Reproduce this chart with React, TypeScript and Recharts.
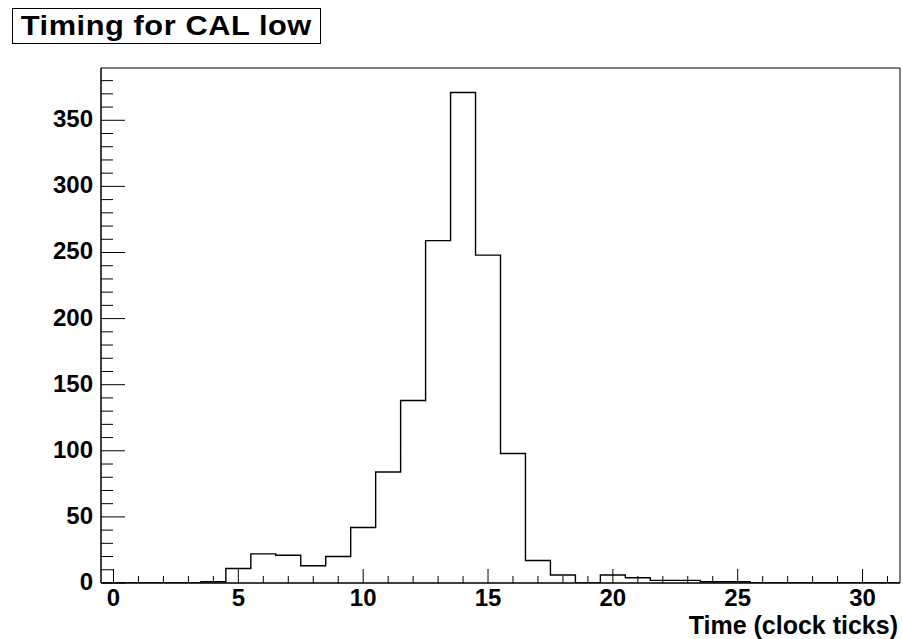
import {
  ComposedChart,
  Line,
  XAxis,
  YAxis,
  ReferenceArea,
  Label,
} from "recharts";

// bin centres (clock ticks) and entries per bin
const binCenters = [
  0, 1, 2, 3, 4, 5, 6, 7, 8, 9, 10, 11, 12, 13, 14, 15, 16, 17, 18, 19, 20,
  21, 22, 23, 24, 25, 26, 27, 28, 29, 30, 31,
];
const counts = [
  0, 0, 0, 0, 1, 11, 22, 21, 13, 20, 42, 84, 138, 259, 371, 248, 98, 17, 6, 0,
  6, 4, 2, 2, 1, 1, 0, 0, 0, 0, 0, 0,
];

const xTicks = [
  0, 1, 2, 3, 4, 5, 6, 7, 8, 9, 10, 11, 12, 13, 14, 15, 16, 17, 18, 19, 20,
  21, 22, 23, 24, 25, 26, 27, 28, 29, 30, 31,
];
const xLabels = [0, 5, 10, 15, 20, 25, 30];
const yTicks = [
  0, 10, 20, 30, 40, 50, 60, 70, 80, 90, 100, 110, 120, 130, 140, 150, 160,
  170, 180, 190, 200, 210, 220, 230, 240, 250, 260, 270, 280, 290, 300, 310,
  320, 330, 340, 350, 360, 370, 380,
];
const yLabels = [0, 50, 100, 150, 200, 250, 300, 350];

const binWidth = 1;
const xMin = binCenters[0] - binWidth / 2;
const xMax = binCenters[binCenters.length - 1] + binWidth / 2;
const yMax = Math.max(...counts) * 1.05;

// step outline: one point at each low edge, plus the last high edge
const outline = binCenters.map((c, i) => ({ x: c - binWidth / 2, n: counts[i] }));
outline.push({ x: xMax, n: counts[counts.length - 1] });

const font = "'Liberation Sans', Arial, Helvetica, sans-serif";

function XTick(props: any) {
  const { x, y, payload } = props;
  const major = xLabels.includes(payload.value);
  return (
    <g>
      <line x1={x} x2={x} y1={y} y2={y - (major ? 14 : 7)} stroke="#000" />
      {major && (
        <text
          x={x}
          y={y + 23}
          textAnchor="middle"
          fontFamily={font}
          fontWeight="bold"
          fontSize={24}
          fill="#000"
        >
          {payload.value}
        </text>
      )}
    </g>
  );
}

function YTick(props: any) {
  const { x, y, payload } = props;
  const major = yLabels.includes(payload.value);
  return (
    <g>
      <line x1={x} x2={x + (major ? 24 : 12)} y1={y} y2={y} stroke="#000" />
      {major && (
        <text
          x={x - 8}
          y={y + 7}
          textAnchor="end"
          fontFamily={font}
          fontWeight="bold"
          fontSize={24}
          fill="#000"
        >
          {payload.value}
        </text>
      )}
    </g>
  );
}

export default function App() {
  return (
    <div
      style={{
        position: "absolute",
        left: 0,
        top: 0,
        width: 903,
        height: 639,
        background: "#fff",
      }}
    >
      <div
        style={{
          position: "absolute",
          left: 12,
          top: 8,
          width: 307,
          height: 34,
          border: "1px solid #000",
          background: "#fff",
          fontFamily: font,
          fontWeight: "bold",
          fontSize: 28,
          lineHeight: "34px",
          textAlign: "center",
          color: "#000",
          zIndex: 2,
        }}
      >
        <span
          style={{
            display: "inline-block",
            transform: "scaleX(1.1)",
            letterSpacing: 0.5,
          }}
        >
          Timing for CAL low
        </span>
      </div>
      <ComposedChart
        width={903}
        height={639}
        data={outline}
        margin={{ top: 68, right: 3, bottom: 0, left: 0 }}
      >
        <XAxis
          dataKey="x"
          type="number"
          domain={[xMin, xMax]}
          ticks={xTicks}
          interval={0}
          tickSize={0}
          tickMargin={0}
          tickLine={false}
          tick={<XTick />}
          height={56}
          axisLine={{ stroke: "#000" }}
          allowDataOverflow
        >
          <Label
            content={({ viewBox }: any) => (
              <text
                x={viewBox.x + viewBox.width - 2}
                y={viewBox.y + 51}
                textAnchor="end"
                fontFamily={font}
                fontWeight="bold"
                fontSize={25}
                fill="#000"
              >
                Time (clock ticks)
              </text>
            )}
          />
        </XAxis>
        <YAxis
          type="number"
          domain={[0, yMax]}
          ticks={yTicks}
          interval={0}
          tickSize={0}
          tickMargin={0}
          tickLine={false}
          tick={<YTick />}
          width={101}
          axisLine={{ stroke: "#000" }}
          allowDataOverflow
        />
        <ReferenceArea
          x1={xMin}
          x2={xMax}
          y1={0}
          y2={yMax}
          fill="none"
          stroke="#000"
          strokeWidth={1}
        />
        <Line
          dataKey="n"
          type="stepAfter"
          stroke="#000"
          strokeWidth={1.4}
          dot={false}
          isAnimationActive={false}
        />
      </ComposedChart>
    </div>
  );
}
